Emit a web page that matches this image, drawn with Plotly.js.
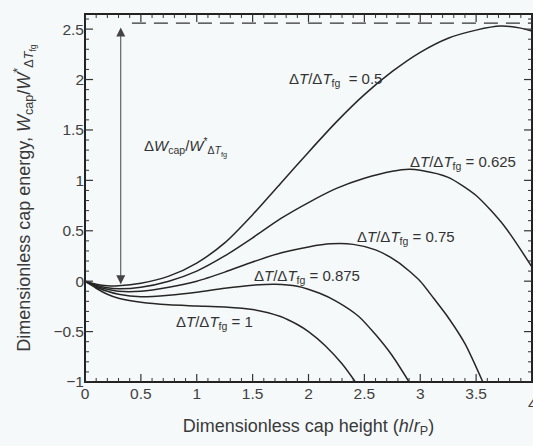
<!DOCTYPE html>
<html>
<head>
<meta charset="utf-8">
<script src="https://cdn.plot.ly/plotly-3.0.1.min.js"></script>
<style>html,body{margin:0;padding:0;background:#f6f9fa;}#chart{width:533px;height:446px;}</style>
</head>
<body>
<div id="chart"></div>
<script>
// Curve data (x = h/rP, y = Wcap/W*)
const x05   = [0, 0.1, 0.2, 0.3, 0.5, 0.75, 1.0, 1.25, 1.5, 1.75, 2.0, 2.25, 2.5, 2.75, 3.0, 3.25, 3.5, 3.72, 3.9, 4.0];
const y05   = [0, -0.03, -0.045, -0.045, -0.02, 0.05, 0.18, 0.38, 0.66, 0.97, 1.28, 1.58, 1.85, 2.08, 2.27, 2.41, 2.49, 2.53, 2.51, 2.48];
const x0625 = [0, 0.1, 0.2, 0.3, 0.5, 0.75, 1.0, 1.25, 1.5, 1.75, 2.0, 2.25, 2.5, 2.75, 2.9, 3.0, 3.25, 3.5, 3.75, 4.0];
const y0625 = [0, -0.04, -0.065, -0.075, -0.06, 0.0, 0.1, 0.25, 0.43, 0.62, 0.78, 0.92, 1.02, 1.09, 1.11, 1.10, 1.03, 0.85, 0.55, 0.14];
const x075  = [0, 0.1, 0.2, 0.3, 0.5, 0.75, 1.0, 1.25, 1.5, 1.75, 2.0, 2.2, 2.4, 2.6, 2.8, 3.0, 3.12, 3.25, 3.4, 3.56];
const y075  = [0, -0.05, -0.08, -0.1, -0.1, -0.06, 0.0, 0.09, 0.19, 0.28, 0.34, 0.37, 0.365, 0.31, 0.19, 0.0, -0.17, -0.36, -0.62, -1.0];
const x0875 = [0, 0.1, 0.2, 0.3, 0.5, 0.75, 1.0, 1.25, 1.5, 1.7, 1.9, 2.1, 2.25, 2.45, 2.6, 2.75, 2.9];
const y0875 = [0, -0.06, -0.1, -0.13, -0.155, -0.14, -0.11, -0.07, -0.04, -0.03, -0.05, -0.12, -0.2, -0.35, -0.53, -0.74, -1.0];
const x1    = [0, 0.1, 0.2, 0.3, 0.5, 0.75, 1.0, 1.25, 1.5, 1.75, 1.9, 2.0, 2.15, 2.3, 2.42];
const y1    = [0, -0.07, -0.13, -0.17, -0.21, -0.235, -0.245, -0.255, -0.28, -0.35, -0.43, -0.5, -0.64, -0.82, -1.0];

const labels = ["0.5", "0.625", "0.75", "0.875", "1"];
const labelX = [2.24, 3.38, 2.87, 1.99, 1.16];
const labelY = [2.0, 1.18, 0.43, 0.05, -0.41];

// tick values (major every 0.5, minor every 0.1)
const xMajor = [0, 0.5, 1, 1.5, 2, 2.5, 3, 3.5, 4];
const yMajor = [-1, -0.5, 0, 0.5, 1, 1.5, 2, 2.5];
const xMinor = [];
for (let i = 1; i < 40; i++) if (i % 5 !== 0) xMinor.push(i / 10);
const yMinor = [];
for (let i = -9; i <= 26; i++) if (i % 5 !== 0) yMinor.push(i / 10);

const lineStyle = {color: '#262626', width: 1.5, shape: 'spline', smoothing: 0.7};
const series = [[x05, y05], [x0625, y0625], [x075, y075], [x0875, y0875], [x1, y1]];
const traces = series.map((s, i) => ({
  x: s[0], y: s[1], type: 'scatter', mode: 'lines', line: lineStyle,
  name: labels[i], showlegend: false, hoverinfo: 'skip'
}));

const fam = 'Liberation Sans, Arial, sans-serif';
const fnt = {family: fam, size: 15.5, color: '#3f3f3f'};

const annotations = labels.map((l, i) => ({
  x: labelX[i], y: labelY[i], xref: 'x', yref: 'y', showarrow: false,
  text: 'Δ<i>T</i>/Δ<i>T</i><sub>fg</sub> ' + (i === 0 ? ' ' : '') + '= ' + l,
  font: {family: fam, size: 15, color: '#333'}
}));
annotations.push({
  x: 0.9, y: 1.33, xref: 'x', yref: 'y', showarrow: false,
  text: 'Δ<i>W</i><sub>cap</sub>/<i>W</i><sup>*</sup><sub>Δ<i>T</i><sub>fg</sub></sub>',
  font: {family: fam, size: 15, color: '#333'}
});
annotations.push({
  x: 0.32, y: -0.03, ax: 0.32, ay: 2.53, xref: 'x', yref: 'y', axref: 'x', ayref: 'y',
  text: '', showarrow: true, arrowhead: 2, startarrowhead: 2, arrowside: 'end+start',
  arrowsize: 1.8, startarrowsize: 1.8, arrowwidth: 1, arrowcolor: '#444'
});
// last x tick label, cut by the page edge as in the figure
annotations.push({
  x: 4, y: 0, xref: 'x', yref: 'paper', yanchor: 'top', yshift: -11, showarrow: false,
  text: '4', font: fnt
});

// frame and inside ticks (on all four sides) as shapes placed through the axes
const shapes = [];
shapes.push({type: 'rect', xref: 'paper', yref: 'paper', x0: 0, x1: 1, y0: 0, y1: 1,
  line: {color: '#222', width: 2}, fillcolor: 'rgba(0,0,0,0)', layer: 'above'});
function xTick(v, len, w) {
  [[0, len], [1, -len]].forEach(p => shapes.push({
    type: 'line', xref: 'x', x0: v, x1: v, yref: 'paper', ysizemode: 'pixel', yanchor: p[0], y0: 0, y1: p[1],
    line: {color: '#333', width: w}, layer: 'above'
  }));
}
function yTick(v, len, w) {
  [[0, len], [1, -len]].forEach(p => shapes.push({
    type: 'line', yref: 'y', y0: v, y1: v, xref: 'paper', xsizemode: 'pixel', xanchor: p[0], x0: 0, x1: p[1],
    line: {color: '#333', width: w}, layer: 'above'
  }));
}
xMajor.forEach(v => xTick(v, 8, 1.2));
xMinor.forEach(v => xTick(v, 4, 1));
yMajor.forEach(v => yTick(v, 8, 1.2));
yMinor.forEach(v => yTick(v, 4, 1));
shapes.push({
  type: 'line', xref: 'x', yref: 'y', x0: 0.42, x1: 4, y0: 2.56, y1: 2.56,
  line: {color: '#333', width: 1.3, dash: '14px,8px'}
});

const axisCommon = {
  tickmode: 'linear', tick0: 0, dtick: 0.5, ticks: '',
  showline: false, showgrid: false, zeroline: false
};

const layout = {
  width: 533, height: 446,
  margin: {l: 85, r: 1, t: 14, b: 64},
  paper_bgcolor: '#f6f9fa', plot_bgcolor: '#f6f9fa',
  font: fnt,
  showlegend: false,
  xaxis: Object.assign({}, axisCommon, {
    range: [0, 4],
    title: {text: 'Dimensionless cap height (<i>h</i>/<i>r</i><sub>P</sub>)', font: {family: fam, size: 18, color: '#3a3a3a'}, standoff: 18}
  }),
  yaxis: Object.assign({}, axisCommon, {
    range: [-1, 2.65],
    title: {text: 'Dimensionless cap energy, <i>W</i><sub>cap</sub>/<i>W</i><sup>*</sup><sub>Δ<i>T</i><sub>fg</sub></sub>', font: {family: fam, size: 18, color: '#3a3a3a'}, standoff: 18}
  }),
  shapes: shapes,
  annotations: annotations
};

Plotly.newPlot('chart', traces, layout, {staticPlot: true, displayModeBar: false});
</script>
</body>
</html>
